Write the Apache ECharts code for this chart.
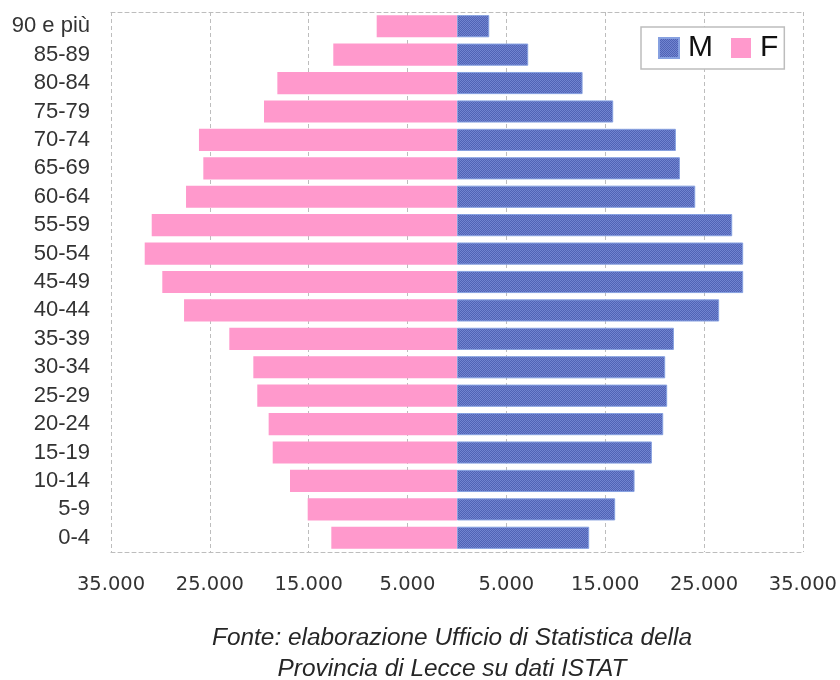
<!DOCTYPE html>
<html>
<head>
<meta charset="utf-8">
<script src="https://cdn.jsdelivr.net/npm/echarts@6/dist/echarts.min.js"></script>
<style>
  html, body { margin: 0; padding: 0; background: #fff; }
  #chart { width: 840px; height: 680px; }
</style>
</head>
<body>
<div id="chart"></div>
<script>
// Age classes, bottom to top
const categories = ['0-4', '5-9', '10-14', '15-19', '20-24', '25-29', '30-34', '35-39', '40-44',
  '45-49', '50-54', '55-59', '60-64', '65-69', '70-74', '75-79', '80-84', '85-89', '90 e più'];

// Residents by sex and age class
const maschi = [13380, 16010, 17970, 19720, 20870, 21270, 21070, 21950, 26530,
  28960, 28960, 27850, 24110, 22560, 22150, 15810, 12710, 7210, 3270];
const femmine = [12710, 15100, 16890, 18640, 19050, 20200, 20600, 23030, 27610,
  29810, 31590, 30880, 27410, 25660, 26100, 19520, 18170, 12510, 8120];

const seriesNames = ['M', 'F'];
const captionLines = ['Fonte: elaborazione Ufficio di Statistica della', 'Provincia di Lecce su dati ISTAT'];

// Small checkerboard fill for the male bars
function checkerPattern() {
  const c = document.createElement('canvas');
  c.width = 2; c.height = 2;
  const ctx = c.getContext('2d');
  ctx.fillStyle = '#5063b5';
  ctx.fillRect(0, 0, 2, 2);
  ctx.fillStyle = '#7184d0';
  ctx.fillRect(0, 0, 1, 1);
  ctx.fillRect(1, 1, 1, 1);
  return c;
}

const fmt = v => Math.abs(v).toLocaleString('it-IT').replace(/\s/g, '.');

const chart = echarts.init(document.getElementById('chart'), null, { renderer: 'canvas' });

const dashed = { color: '#bdbdbd', width: 1, type: [4, 3] };

chart.setOption({
  animation: false,
  backgroundColor: '#fff',
  grid: { left: 111, right: 37, top: 12, bottom: 128, containLabel: false },
  title: {
    text: captionLines.join('\n'),
    left: 447,
    top: 618,
    textAlign: 'center',
    textStyle: {
      fontFamily: 'Liberation Sans, Arial, sans-serif',
      fontStyle: 'italic',
      fontWeight: 'normal',
      fontSize: 24.4,
      lineHeight: 31,
      color: '#262626'
    }
  },
  legend: {
    data: seriesNames,
    left: 641,
    top: 27,
    orient: 'horizontal',
    icon: 'rect',
    itemWidth: 20,
    itemHeight: 20,
    itemGap: 18,
    padding: [6, 6, 6, 17],
    borderColor: '#bdbdbd',
    borderWidth: 1.5,
    backgroundColor: '#fff',
    textStyle: {
      fontFamily: 'Liberation Sans, Arial, sans-serif',
      fontSize: 30,
      color: '#111',
      padding: [0, 0, 0, 4]
    }
  },
  xAxis: [
    {
      type: 'value',
      position: 'bottom',
      min: -35000,
      max: 35000,
      interval: 10000,
      axisLine: { show: true, lineStyle: dashed },
      axisTick: { show: false },
      splitLine: { show: true, lineStyle: dashed },
      axisLabel: {
        formatter: fmt,
        margin: 23,
        fontFamily: 'DejaVu Sans, Verdana, sans-serif',
        fontSize: 19.5,
        color: '#333'
      }
    },
    {
      type: 'value',
      position: 'top',
      min: -35000,
      max: 35000,
      interval: 10000,
      axisLine: { show: true, lineStyle: dashed },
      axisTick: { show: false },
      splitLine: { show: false },
      axisLabel: { show: false }
    }
  ],
  yAxis: {
    type: 'category',
    data: categories,
    axisLine: { show: false },
    axisTick: { show: false },
    splitLine: { show: false },
    axisLabel: {
      interval: 0,
      margin: 21,
      fontFamily: 'Liberation Sans, Arial, sans-serif',
      fontSize: 22,
      color: '#333'
    }
  },
  series: [
    {
      name: 'M',
      type: 'bar',
      stack: 'pop',
      data: maschi,
      barCategoryGap: '22%',
      itemStyle: {
        color: { image: checkerPattern(), repeat: 'repeat' },
        borderColor: '#86a0e0',
        borderWidth: 1
      }
    },
    {
      name: 'F',
      type: 'bar',
      stack: 'pop',
      data: femmine.map(v => -v),
      barCategoryGap: '22%',
      itemStyle: { color: '#ff99cc' }
    }
  ]
});
</script>
</body>
</html>
